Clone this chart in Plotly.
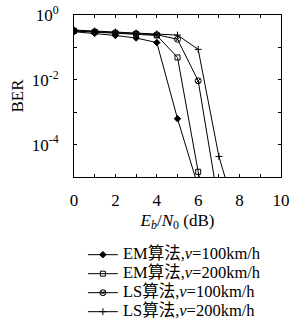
import plotly.graph_objects as go

snr_em100 = [0, 1, 2, 3, 4, 5, 6]
ber_em100 = [0.305, 0.272, 0.234, 0.195, 0.141, 6.3e-4, 5.0e-6]
snr_em200 = [0, 1, 2, 3, 4, 5, 6, 7]
ber_em200 = [0.32, 0.298, 0.272, 0.26, 0.234, 0.049, 1.45e-5, 1e-8]
snr_ls100 = [0, 1, 2, 3, 4, 5, 6, 7]
ber_ls100 = [0.329, 0.306, 0.285, 0.265, 0.247, 0.178, 0.0093, 1.3e-6]
snr_ls200 = [0, 1, 2, 3, 4, 5, 6, 7, 8]
ber_ls200 = [0.344, 0.321, 0.298, 0.278, 0.259, 0.24, 0.087, 4.3e-5, 3e-7]

names = ["EM算法,<i>v</i>=100km/h", "EM算法,<i>v</i>=200km/h",
         "LS算法,<i>v</i>=100km/h", "LS算法,<i>v</i>=200km/h"]
symbols = ["diamond", "square-open", "circle-x-open", "cross-thin-open"]
sizes = [5, 5, 6, 5]

FONT = "Liberation Serif, Times New Roman, Noto Sans CJK SC, serif"

fig = go.Figure()
for xs, ys, nm, sym, sz in zip(
        [snr_em100, snr_em200, snr_ls100, snr_ls200],
        [ber_em100, ber_em200, ber_ls100, ber_ls200],
        names, symbols, sizes):
    fig.add_trace(go.Scatter(
        x=xs, y=ys, name='<span style="font-size:16.5px">' + nm + '</span>',
        mode="lines+markers",
        line=dict(color="black", width=1),
        marker=dict(symbol=sym, size=sz, color="black",
                    line=dict(color="black", width=1)),
    ))

fig.update_layout(
    width=290, height=324,
    margin=dict(l=74, r=9, t=15, b=147, autoexpand=False),
    paper_bgcolor="white", plot_bgcolor="white",
    font=dict(family=FONT, size=17, color="black"),
    showlegend=True,
    legend=dict(x=0.043, y=-0.39, xanchor="left", yanchor="top",
                font=dict(family=FONT, size=12), itemwidth=30,
                tracegroupgap=0, bgcolor="rgba(0,0,0,0)"),
    xaxis=dict(range=[0, 10], tickvals=list(range(0, 11)),
               ticktext=["0", "", "2", "", "4", "", "6", "", "8", "", "10"],
               ticks="inside", ticklen=3, tickcolor="black",
               ticklabelstandoff=8, ticklabeloverflow="allow",
               showline=True, linecolor="black", linewidth=1, mirror="ticks",
               showgrid=False, zeroline=False, automargin=False,
               title=dict(text="<i>E</i><sub><i>b</i></sub>/<i>N</i><sub>0</sub> (dB)",
                          standoff=4, font=dict(size=17))),
    yaxis=dict(type="log", range=[-5, 0],
               tickvals=[1, 0.1, 0.01, 0.001, 1e-4],
               ticktext=["10<sup>0</sup>", "", "10<sup>-2</sup>", "", "10<sup>-4</sup>"],
               ticks="inside", ticklen=3, tickcolor="black",
               ticklabelstandoff=11,
               showline=True, linecolor="black", linewidth=1, mirror="ticks",
               showgrid=False, zeroline=False, automargin=False,
               title=dict(text="BER", standoff=3, font=dict(size=17))),
)

fig.write_html("out.html", config={"displayModeBar": False},
               post_script="document.body.style.margin='0';document.body.style.overflow='hidden';")
